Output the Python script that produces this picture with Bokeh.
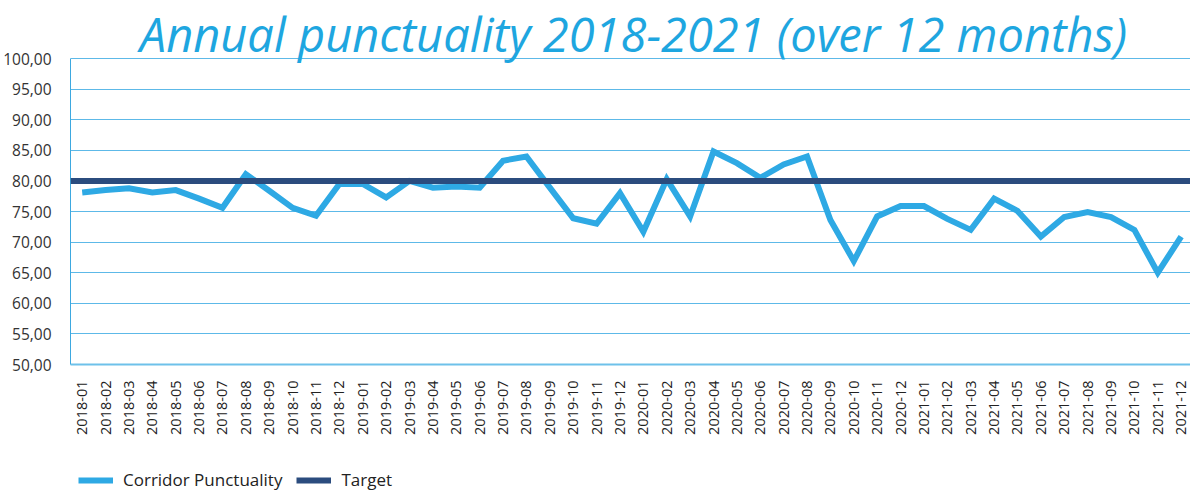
import math
from bokeh.plotting import figure
from bokeh.layouts import column
from bokeh.models import Range1d, FixedTicker, Span, Legend, LegendItem, Label
from bokeh.embed import file_html
from bokeh.resources import INLINE

title_text = "Annual punctuality 2018-2021 (over 12 months)"

months = [
    "2018-01", "2018-02", "2018-03", "2018-04", "2018-05", "2018-06",
    "2018-07", "2018-08", "2018-09", "2018-10", "2018-11", "2018-12",
    "2019-01", "2019-02", "2019-03", "2019-04", "2019-05", "2019-06",
    "2019-07", "2019-08", "2019-09", "2019-10", "2019-11", "2019-12",
    "2020-01", "2020-02", "2020-03", "2020-04", "2020-05", "2020-06",
    "2020-07", "2020-08", "2020-09", "2020-10", "2020-11", "2020-12",
    "2021-01", "2021-02", "2021-03", "2021-04", "2021-05", "2021-06",
    "2021-07", "2021-08", "2021-09", "2021-10", "2021-11", "2021-12",
]

corridor_punctuality = [
    78.1, 78.5, 78.8, 78.1, 78.5, 77.1, 75.6, 81.1, 78.4, 75.6, 74.3, 79.5,
    79.5, 77.3, 80.0, 78.9, 79.1, 78.9, 83.3, 84.0, 78.9, 73.9, 73.0, 78.0,
    71.7, 80.3, 74.2, 84.8, 82.9, 80.5, 82.7, 84.0, 73.6, 66.9, 74.2, 75.9,
    75.9, 73.8, 72.0, 77.1, 75.1, 70.9, 74.1, 74.9, 74.1, 72.0, 65.0, 70.9,
]

target = 80.0

y_ticks = [50, 55, 60, 65, 70, 75, 80, 85, 90, 95, 100]
y_labels = ["50,00", "55,00", "60,00", "65,00", "70,00", "75,00",
            "80,00", "85,00", "90,00", "95,00", "100,00"]

series_names = ["Corridor Punctuality", "Target"]

FONT = "Open Sans"
LIGHT = "#2EA9E4"
DARK = "#2B4C7E"
GRID = "#5DB9E8"
W = 1190

xs = list(range(len(months)))

# ---- main chart (title drawn in the headroom above 100) ----
p = figure(
    width=W, height=448,
    output_backend="svg", toolbar_location=None,
    x_range=Range1d(-0.5, 47.4),
    y_range=Range1d(y_ticks[0], 109.48),
    min_border_left=70, min_border_right=0, min_border_top=0,
    min_border_bottom=84,
)
p.background_fill_color = "white"
p.border_fill_color = "white"
p.outline_line_color = None

p.add_layout(Label(
    x=563, y=331, x_units="screen", y_units="screen", text=title_text,
    text_font=FONT, text_font_style="italic", text_font_size="47px",
    text_color="#1EA6E0", text_align="center", text_baseline="alphabetic",
))

p.xaxis.ticker = FixedTicker(ticks=xs)
p.xaxis.major_label_overrides = {i: m for i, m in zip(xs, months)}
p.xaxis.major_label_orientation = math.pi / 2
p.xaxis.major_label_text_font = FONT
p.xaxis.major_label_text_font_size = "14.5px"
p.xaxis.major_label_text_color = "#222222"
p.xaxis.major_tick_line_color = None
p.xaxis.minor_tick_line_color = None
p.xaxis.axis_line_color = "#6EC1EA"
p.xaxis.axis_line_width = 2
p.xaxis.major_label_standoff = 10

p.yaxis.ticker = FixedTicker(ticks=y_ticks)
p.yaxis.bounds = (y_ticks[0], y_ticks[-1])
p.yaxis.major_label_overrides = {t: l for t, l in zip(y_ticks, y_labels)}
p.yaxis.major_label_text_font = FONT
p.yaxis.major_label_text_font_size = "15.5px"
p.yaxis.major_label_text_color = "#333333"
p.yaxis.major_tick_line_color = None
p.yaxis.minor_tick_line_color = None
p.yaxis.axis_line_color = "#3DA8E0"
p.yaxis.axis_line_width = 1
p.yaxis.major_label_standoff = 13

p.xgrid.grid_line_color = None
p.ygrid.grid_line_color = GRID
p.ygrid.grid_line_width = 1

p.add_layout(Span(location=target, dimension="width", line_color=DARK, line_width=6))
p.line(xs, [target] * len(xs), line_color=DARK, line_width=6)
p.line(xs, corridor_punctuality, line_color=LIGHT, line_width=6, line_join="miter")

# ---- legend strip (series drawn out of view; only the legend shows) ----
pl = figure(width=W, height=45, output_backend="svg", toolbar_location=None,
            x_range=Range1d(0, 1), y_range=Range1d(0, 1),
            x_axis_location=None, y_axis_location=None,
            min_border_left=70, min_border_right=0,
            min_border_top=0, min_border_bottom=0)
pl.grid.visible = False
pl.outline_line_color = None
pl.background_fill_color = "white"
pl.border_fill_color = "white"
lr1 = pl.line(xs, corridor_punctuality, line_color=LIGHT, line_width=6)
lr2 = pl.line(xs, [target] * len(xs), line_color=DARK, line_width=6)
legend = Legend(
    items=[LegendItem(label=series_names[0], renderers=[lr1]),
           LegendItem(label=series_names[1], renderers=[lr2])],
    orientation="horizontal",
    location=(8, 2),
    label_text_font=FONT,
    label_text_font_size="17px",
    label_text_color="#222222",
    glyph_width=35,
    glyph_height=20,
    label_standoff=10,
    spacing=14,
    padding=0,
    margin=0,
    border_line_color=None,
    background_fill_alpha=0,
)
pl.add_layout(legend, "center")

layout = column(p, pl, spacing=0)
open("out.html", "w").write(file_html(layout, INLINE))
